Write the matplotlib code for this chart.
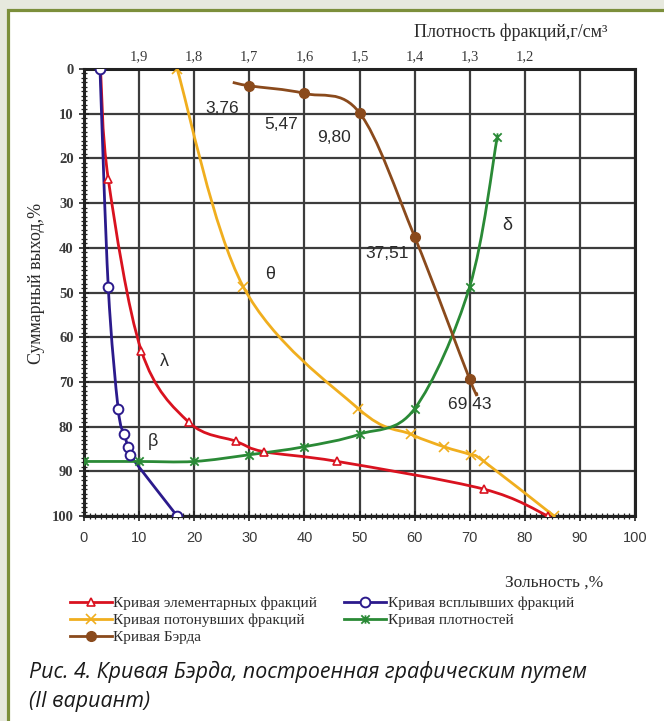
import matplotlib
matplotlib.use('Agg')
import matplotlib.pyplot as plt
import numpy as np
from matplotlib.path import Path
from matplotlib.patches import PathPatch, Rectangle
from matplotlib.lines import Line2D
from matplotlib.ticker import MultipleLocator

# --- data (x = ash %, y = cumulative yield %) ---
elem_x = [3.0, 4.4, 10.4, 19.0, 27.6, 32.6, 46.0, 72.6, 84.2]
elem_y = [0, 24.6, 63.0, 79.0, 83.3, 85.6, 87.8, 94.0, 100]
elem_mark = [False, True, True, True, True, True, True, True, True]

float_x = [2.9, 4.4, 6.2, 7.3, 8.0, 8.4, 9.2, 16.9]
float_y = [0, 48.7, 76.0, 81.7, 84.5, 86.3, 87.8, 100]
float_mark = [True, True, True, True, True, True, False, True]

sink_x = [16.9, 28.9, 49.8, 59.3, 65.3, 70.2, 72.6, 85.3]
sink_y = [0, 48.7, 76.0, 81.7, 84.5, 86.3, 87.8, 100]

dens_x = [0, 10, 20, 30, 40, 50, 60, 70, 75]
dens_y = [87.8, 87.8, 87.8, 86.3, 84.5, 81.7, 76.0, 48.7, 15.2]

bird_x = [27.0, 30, 40, 50, 60, 70, 71.3]
bird_y = [3.0, 3.76, 5.47, 9.80, 37.51, 69.43, 72.5]
bird_mark = [False, True, True, True, True, True, False]
bird_labels = ['3,76', '5,47', '9,80', '37,51', '69 43']

density_ticks = [10, 20, 30, 40, 50, 60, 70, 80]
density_labels = ['1,9', '1,8', '1,7', '1,6', '1,5', '1,4', '1,3', '1,2']

RED = '#d9121f'
BLUE = '#2b1a8c'
YELLOW = '#f0ae1e'
GREEN = '#2a8a36'
BROWN = '#8a4a1c'
SERIF = 'Liberation Serif'
SANS = 'Liberation Sans'
TXT = '#2b2b2b'

# excel-like star marker (x with a vertical bar)
star = Path([(-1, -1), (1, 1), (-1, 1), (1, -1), (0, -1), (0, 1)],
            [Path.MOVETO, Path.LINETO, Path.MOVETO, Path.LINETO, Path.MOVETO, Path.LINETO])


def smooth_path(xs, ys):
    # catmull-rom through the points, drawn as cubic bezier segments
    pts = np.column_stack([xs, ys]).astype(float)
    n = len(pts)
    verts = [pts[0]]
    codes = [Path.MOVETO]
    for i in range(n - 1):
        p0 = pts[i - 1] if i > 0 else pts[i]
        p1, p2 = pts[i], pts[i + 1]
        p3 = pts[i + 2] if i + 2 < n else pts[i + 1]
        verts += [p1 + (p2 - p0) / 6, p2 - (p3 - p1) / 6, p2]
        codes += [Path.CURVE4] * 3
    return Path(verts, codes)


fig = plt.figure(figsize=(6.64, 7.21), dpi=100, facecolor='#e7e9de')
# white card with olive border on top / left
fig.patches.append(Rectangle((8 / 664, -0.2), 1.2, 1.2 - 10 / 721, transform=fig.transFigure,
                             facecolor='white', edgecolor='#7c8f3b', lw=2.3, zorder=-5))

ax = fig.add_axes([84 / 664, 205 / 721, 551 / 664, 447 / 721])
ax.set_xlim(0, 100)
ax.set_ylim(100, 0)

ax.xaxis.set_major_locator(MultipleLocator(10))
ax.yaxis.set_major_locator(MultipleLocator(10))
ax.xaxis.set_minor_locator(MultipleLocator(1))
ax.yaxis.set_minor_locator(MultipleLocator(1))
ax.grid(True, which='major', color='#3c3c3c', lw=1.6)
ax.set_axisbelow(True)
for s in ax.spines.values():
    s.set_linewidth(2.2)
    s.set_color('#222222')
ax.tick_params(which='major', direction='inout', length=7, width=1.2, color='#222222')
ax.tick_params(which='minor', direction='inout', length=5, width=0.9, color='#222222')
ax.tick_params(axis='x', labelsize=10.5, pad=7)
ax.tick_params(axis='y', labelsize=10.5, pad=4)
for lab in ax.get_xticklabels():
    lab.set_fontfamily(SANS)
    lab.set_color('#3a3a3a')
for lab in ax.get_yticklabels():
    lab.set_fontfamily(SERIF)
    lab.set_fontweight('bold')
    lab.set_color('#3a3a3a')

# top density axis
top = ax.twiny()
top.set_xlim(ax.get_xlim())
top.set_xticks(density_ticks)
top.set_xticklabels(density_labels, fontfamily=SERIF, fontsize=10.5, color='#3a3a3a')
top.tick_params(length=0, pad=4)
for s in top.spines.values():
    s.set_visible(False)

curves = [
    (elem_x, elem_y, elem_mark, RED, dict(marker='^', mfc='white', mec=RED, ms=6, mew=1.2)),
    (float_x, float_y, float_mark, BLUE, dict(marker='o', mfc='white', mec=BLUE, ms=7, mew=1.4)),
    (sink_x, sink_y, [True] * len(sink_x), YELLOW, dict(marker='x', mec=YELLOW, ms=7, mew=1.2)),
    (dens_x, dens_y, [True] * len(dens_x), GREEN, dict(marker=star, mec=GREEN, ms=6, mew=1.3)),
    (bird_x, bird_y, bird_mark, BROWN, dict(marker='o', mfc=BROWN, mec=BROWN, ms=7)),
]
for xs, ys, mask, col, mk in curves:
    ax.add_patch(PathPatch(smooth_path(xs, ys), fill=False, edgecolor=col, lw=2, zorder=3))
    mx = [x for x, m in zip(xs, mask) if m]
    my = [y for y, m in zip(ys, mask) if m]
    ax.plot(mx, my, linestyle='none', zorder=4, **mk)

# value labels on Bird curve and curve letters
label_pos = [(22.0, 8.9), (32.7, 12.5), (42.4, 15.4), (51.1, 41.3), (66.0, 75.1)]
for (lx, ly), t in zip(label_pos, bird_labels):
    ax.text(lx, ly, t, fontfamily=SANS, fontsize=12.5, color=TXT, va='center', ha='left', zorder=5)
for t, lx, ly in [('θ', 33.8, 46.0), ('δ', 76.9, 34.9), ('λ', 14.5, 65.5), ('β', 12.5, 83.3)]:
    ax.text(lx, ly, t, fontfamily=SANS, fontsize=13, color=TXT, va='center', ha='center', zorder=5)

fig.text(607 / 664, 1 - 32 / 721, 'Плотность фракций,г/см³', fontfamily=SERIF, fontsize=13,
         color=TXT, ha='right', va='center')
fig.text(603 / 664, 1 - 583 / 721, 'Зольность ,%', fontfamily=SERIF, fontsize=12.5,
         color=TXT, ha='right', va='center')
fig.text(37 / 664, 1 - 283 / 721, 'Суммарный выход,%', fontfamily=SERIF, fontsize=13,
         color=TXT, ha='center', va='center', rotation=90)

names = ['Кривая элементарных фракций', 'Кривая потонувших фракций', 'Кривая Бэрда',
         'Кривая всплывших фракций', 'Кривая плотностей']
order = [0, 2, 4, 1, 3]
handles = []
for i in order:
    xs, ys, mask, col, mk = curves[i]
    handles.append(Line2D([], [], color=col, lw=2, **mk))
fig.legend(handles, names, loc='upper left', bbox_to_anchor=(62 / 664, 1 - 589 / 721), ncol=2,
           frameon=False, handlelength=2.75, handletextpad=0.08, columnspacing=1.8, labelspacing=0.22,
           prop=dict(family=SERIF, size=11), labelcolor=TXT, borderpad=0)

fig.text(29 / 664, 1 - 672 / 721, 'Рис. 4. Кривая Бэрда, построенная графическим путем',
         fontfamily='Open Sans', fontstyle='italic', fontsize=15.4, color='#1a1a1a', va='center')
fig.text(29 / 664, 1 - 701 / 721, '(II вариант)',
         fontfamily='Open Sans', fontstyle='italic', fontsize=15.4, color='#1a1a1a', va='center')

fig.savefig('out.png', dpi=100, facecolor=fig.get_facecolor())
